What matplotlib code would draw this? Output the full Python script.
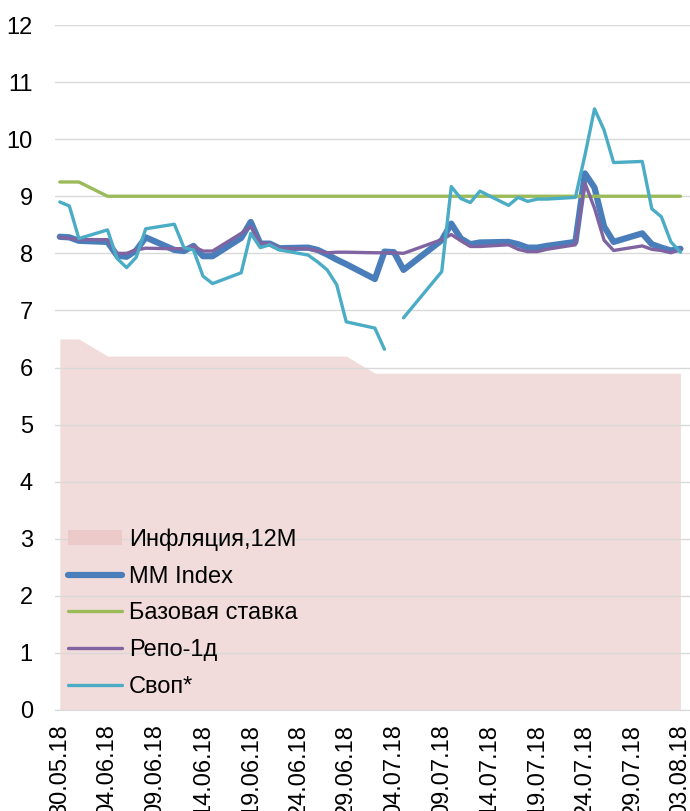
import matplotlib
matplotlib.use("Agg")
import matplotlib.pyplot as plt
import matplotlib.dates as mdates
from matplotlib.patches import Patch
import numpy as np
import pandas as pd

dates = ["30.05.18", "31.05.18", "01.06.18",
         "04.06.18", "05.06.18", "06.06.18", "07.06.18", "08.06.18",
         "11.06.18", "12.06.18", "13.06.18", "14.06.18", "15.06.18",
         "18.06.18", "19.06.18", "20.06.18", "21.06.18", "22.06.18",
         "25.06.18", "26.06.18", "27.06.18", "28.06.18", "29.06.18",
         "02.07.18", "03.07.18", "04.07.18", "05.07.18",
         "09.07.18", "10.07.18", "11.07.18", "12.07.18", "13.07.18",
         "16.07.18", "17.07.18", "18.07.18", "19.07.18", "20.07.18",
         "23.07.18", "24.07.18", "25.07.18", "26.07.18", "27.07.18",
         "30.07.18", "31.07.18", "01.08.18", "02.08.18", "03.08.18"]

inflation = [6.5, 6.5, 6.5,
             6.2, 6.2, 6.2, 6.2, 6.2,
             6.2, 6.2, 6.2, 6.2, 6.2,
             6.2, 6.2, 6.2, 6.2, 6.2,
             6.2, 6.2, 6.2, 6.2, 6.2,
             5.9, 5.9, 5.9, 5.9,
             5.9, 5.9, 5.9, 5.9, 5.9,
             5.9, 5.9, 5.9, 5.9, 5.9,
             5.9, 5.9, 5.9, 5.9, 5.9,
             5.9, 5.9, 5.9, 5.9, 5.9]

mm_index = [8.29, 8.28, 8.22,
            8.20, 7.96, 7.94, 8.05, 8.28,
            8.06, 8.04, 8.13, 7.95, 7.95,
            8.27, 8.55, 8.17, 8.17, 8.09,
            8.10, 8.06, 7.98, 7.89, 7.81,
            7.55, 8.03, 8.02, 7.71,
            8.23, 8.52, 8.26, 8.16, 8.19,
            8.20, 8.16, 8.10, 8.10, 8.13,
            8.20, 9.40, 9.15, 8.47, 8.20,
            8.35, 8.16, 8.10, 8.05, 8.08]

base_rate = [9.25, 9.25, 9.25] + [9.0] * 44

repo_1d = [8.28, 8.26, 8.24,
           8.24, 8.00, 8.00, 8.06, 8.09,
           8.08, 8.08, 8.12, 8.04, 8.04,
           8.35, 8.47, 8.18, 8.17, 8.09,
           8.08, 8.04, 8.01, 8.02, 8.02,
           8.01, 8.01, 8.01, 8.00,
           8.24, 8.33, 8.22, 8.12, 8.12,
           8.15, 8.07, 8.03, 8.03, 8.07,
           8.15, 9.23, 8.79, 8.23, 8.05,
           8.13, 8.07, 8.05, 8.01, 8.07]

swap = [8.90, 8.83, 8.26,
        8.41, 7.91, 7.75, 7.93, 8.43,
        8.51, 8.10, 8.06, 7.60, 7.47,
        7.66, 8.35, 8.10, 8.15, 8.06,
        7.97, 7.85, 7.71, 7.45, 6.80,
        6.69, 6.32, np.nan, 6.87,
        7.68, 9.17, 8.96, 8.89, 9.09,
        8.84, 8.98, 8.91, 8.95, 8.95,
        8.98, 9.72, 10.53, 10.16, 9.59,
        9.61, 8.78, 8.64, 8.20, 8.02]

labels = ["Инфляция,12M", "MM Index", "Базовая ставка", "Репо-1д", "Своп*"]
yticks = list(range(0, 13))

x = pd.to_datetime(dates, format="%d.%m.%y")

plt.rcParams['font.family'] = ['Liberation Sans', 'DejaVu Sans']
FS = 17

fig = plt.figure(figsize=(6.9, 8.11), dpi=100)
ax = fig.add_axes([55 / 690, 1 - 710 / 811, 635 / 690, 685 / 811])

ax.fill_between(x, 0, inflation, color="#F2DCDB", linewidth=0, zorder=0.3)
l1, = ax.plot(x, mm_index, color="#4A7EBB", lw=4.5, solid_capstyle="round", solid_joinstyle="round", zorder=2)
l2, = ax.plot(x, base_rate, color="#9BBB59", lw=2.4, solid_capstyle="round", solid_joinstyle="round", zorder=3)
l3, = ax.plot(x, repo_1d, color="#8064A2", lw=2.4, solid_capstyle="round", solid_joinstyle="round", zorder=4)
l4, = ax.plot(x, swap, color="#4BACC6", lw=2.4, solid_capstyle="round", solid_joinstyle="round", zorder=5)
patch = Patch(facecolor="#ECCACA", edgecolor="none")

start = x[0]
ax.set_xlim(start - pd.Timedelta(hours=12), x[-1] + pd.Timedelta(days=1))
ax.set_ylim(0, 12)
ax.set_yticks(yticks)
ticks = pd.date_range(start, x[-1], freq="5D")
ax.set_xticks(ticks)
ax.xaxis.set_major_formatter(mdates.DateFormatter("%d.%m.%y"))
plt.setp(ax.get_xticklabels(), rotation=90, ha="center", va="top")

ax.grid(axis="y", color="#D9D9D9", lw=1.0, zorder=0.5)
ax.set_axisbelow(True)
for s in ["top", "right", "left"]:
    ax.spines[s].set_visible(False)
ax.spines["bottom"].set_color("#D9D9D9")
ax.tick_params(axis="both", length=0, labelsize=FS, colors="black")
ax.tick_params(axis="y", pad=16)
ax.tick_params(axis="x", pad=10)

leg = ax.legend([patch, l1, l2, l3, l4], labels, loc="lower left", bbox_to_anchor=(-0.006, -0.006),
                frameon=False, fontsize=FS, handlelength=2.3, handleheight=0.6,
                handletextpad=0.28, labelspacing=0.62, borderaxespad=0.3)

fig.savefig("out.png", dpi=100)
